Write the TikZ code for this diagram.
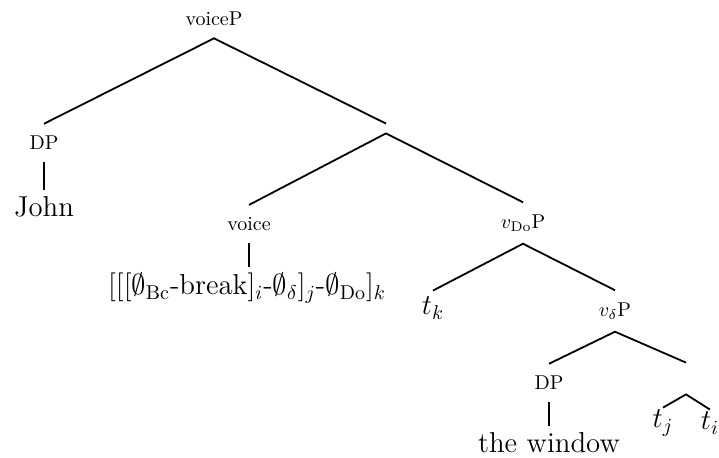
\documentclass[tikz,border=0pt]{standalone}
\usepackage{tikz}
\usetikzlibrary{positioning}

\tikzset{
  cat/.style={inner xsep=1pt, inner ysep=6pt},
  leaf/.style={font=\Large, inner xsep=1pt, inner ysep=3pt},
  blank/.style={inner sep=0pt, minimum width=0pt, minimum height=#1},
  branch/.style={line width=0.9pt}
}

\begin{document}
\begin{tikzpicture}[x=0.5pt, y=-0.5pt]
  \useasboundingbox (0,0) rectangle (719,458);
  % labels
  \node[cat] (voiceP) at (214,19) {voiceP};
  \node[cat] (dpsubj) at (44,143) {DP};
  \node[leaf] (john) at (44,207) {John};
  \node[blank=4.5pt] (vbar) at (386,128.5) {};
  \node[cat] (voicehd) at (249,224) {voice};
  \node[leaf] (morph) at (247,288) {[[[$\emptyset_{\mathrm{Bc}}$-break]$_i$-$\emptyset_\delta$]$_j$-$\emptyset_{\mathrm{Do}}$]$_k$};
  \node[cat] (vdoP) at (523,223) {$v_{\mathrm{Do}}$P};
  \node[leaf] (tk) at (433,308) {$t_k$};
  \node[cat] (vdeltaP) at (615,311) {$v_\delta$P};
  \node[cat] (dpobj) at (549,383) {DP};
  \node[leaf] (window) at (549,443) {the window};
  \node[blank=15.5pt] (vdbar) at (686,378.5) {};
  \node[leaf, inner ysep=1pt] (tj) at (663,423) {$t_j$};
  \node[leaf, inner ysep=1pt] (ti) at (710,423) {$t_i$};
  % branches
  \draw[branch] (dpsubj.north) -- (voiceP.south) -- (vbar.north);
  \draw[branch] (dpsubj.south) -- (john.north);
  \draw[branch] (voicehd.north) -- (vbar.south) -- (vdoP.north);
  \draw[branch] (voicehd.south) -- (voicehd.south |- morph.north);
  \draw[branch] (tk.north) -- (vdoP.south) -- (vdeltaP.north);
  \draw[branch] (dpobj.north) -- (vdeltaP.south) -- (vdbar.north);
  \draw[branch] (dpobj.south) -- (window.north);
  \draw[branch] (tj.north) -- (vdbar.south) -- (ti.north);
\end{tikzpicture}
\end{document}
